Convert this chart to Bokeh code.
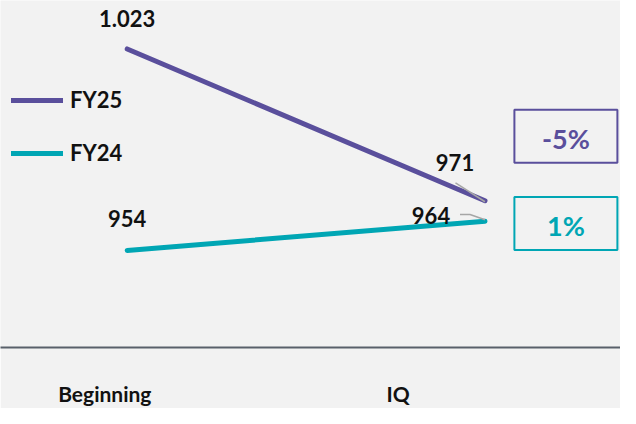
from bokeh.plotting import figure
from bokeh.models import Range1d, FixedTicker, Legend, LegendItem, ColumnDataSource
from bokeh.core.properties import value
from bokeh.embed import file_html
from bokeh.resources import INLINE

# ---- data ----
categories = ["Beginning", "IQ"]
series_names = ["FY25", "FY24"]
fy25 = [1023, 971]
fy24 = [954, 964]
colors = ["#5a4f9c", "#00a6b4"]

FONT = "Lato"
W, H = 620, 408
BOTTOM = 50
FRAME_H = H - BOTTOM

# scales (layout)
X0, X1 = -0.3541, 1.3787
Y1 = 1039.6
Y0 = Y1 - FRAME_H / 3.012
px_x = W / (X1 - X0)
px_y = FRAME_H / (Y1 - Y0)

def fmt(v):
    return f"{v:,}".replace(",", ".")

p = figure(width=W, height=H, output_backend="svg", toolbar_location=None,
           x_range=Range1d(X0, X1), y_range=Range1d(Y0, Y1),
           min_border_left=0, min_border_right=0, min_border_top=0,
           min_border_bottom=BOTTOM, background_fill_color="#f2f2f2",
           border_fill_color="#f2f2f2", outline_line_color=None)
p.grid.visible = False
p.yaxis.visible = False

xs = [0, 1]
r25 = p.line(xs, fy25, line_color=colors[0], line_width=5, line_cap="round")
r24 = p.line(xs, fy24, line_color=colors[1], line_width=5, line_cap="round")

# x axis
TICKS = [-0.0626, 0.7574]
ax = p.xaxis[0]
ax.ticker = FixedTicker(ticks=TICKS)
ax.major_label_overrides = {TICKS[0]: categories[0], TICKS[1]: categories[1]}
ax.major_tick_line_color = None
ax.minor_tick_line_color = None
ax.axis_line_color = "#59606a"
ax.axis_line_width = 2
ax.major_label_text_font = FONT
ax.major_label_text_font_style = "bold"
ax.major_label_text_font_size = "21px"
ax.major_label_text_color = "#111111"
ax.major_label_standoff = 27

# data labels
lab_kw = dict(text_font=value(FONT), text_font_style="bold", text_font_size="22px",
              text_color="#111111", text_align="center", text_baseline="middle")
p.text(x=[0], y=[fy25[0]], text=[fmt(fy25[0])], y_offset=-30, **lab_kw)
p.text(x=[0], y=[fy24[0]], text=[fmt(fy24[0])], y_offset=-32, **lab_kw)
p.text(x=[1], y=[fy25[1]], text=[fmt(fy25[1])], x_offset=-30, y_offset=-38, **lab_kw)
p.text(x=[1], y=[fy24[1]], text=[fmt(fy24[1])], x_offset=-54, y_offset=-6, **lab_kw)

# leader lines (pixel offsets from the end points)
def off(x, y, dx, dy):
    return x + dx / px_x, y - dy / px_y

a = [off(1, fy25[1], -29.5, -18.5), off(1, fy25[1], 0, 1)]
p.line([q[0] for q in a], [q[1] for q in a], line_color="#a6a6a6", line_width=1.5)
c = [off(1, fy24[1], -25, -7), off(1, fy24[1], -15, -7), off(1, fy24[1], 0, -1.5)]
p.line([q[0] for q in c], [q[1] for q in c], line_color="#a6a6a6", line_width=1.5)

# change boxes
pct = [f"{round((s[1] - s[0]) / s[0] * 100):d}%" for s in (fy25, fy24)]
BOX_X = 1.2261
BOX_Y = [993.12, 963.24]
src = ColumnDataSource(dict(x=[BOX_X, BOX_X], y=BOX_Y, t=pct, c=colors))
p.rect(x="x", y="y", width=103, height=53, width_units="screen", height_units="screen",
       fill_color=None, line_color="c", line_width=2, source=src)
p.text(x="x", y="y", text="t", text_color="c", text_font=value(FONT), text_font_style="bold",
       text_font_size="27px", text_align="center", text_baseline="middle", y_offset=2,
       source=src)

# legend
legend = Legend(items=[LegendItem(label=series_names[0], renderers=[r25]),
                       LegendItem(label=series_names[1], renderers=[r24])],
                location=(11, 181), orientation="vertical",
                glyph_width=52, glyph_height=24, label_height=24, spacing=26,
                label_standoff=7, padding=0, margin=0,
                background_fill_alpha=0, border_line_alpha=0,
                label_text_font=FONT, label_text_font_style="bold",
                label_text_font_size="22px", label_text_color="#111111")
p.add_layout(legend)

open("out.html", "w").write(file_html(p, INLINE))
